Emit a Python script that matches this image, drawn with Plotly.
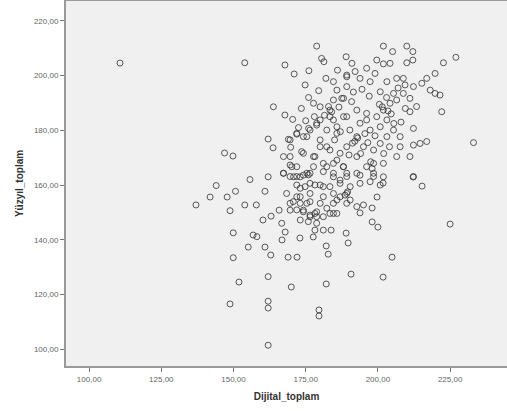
import plotly.graph_objects as go

# Dijital_toplam (x) and Yüzyıl_toplam (y) scores per respondent
dijital = [
    110.7, 153.9, 163.8, 162.0, 163.7, 146.9, 149.8, 155.7, 162.0, 144.0,
    150.7, 160.9, 141.9, 147.8, 137.0, 148.8, 153.9, 157.9, 160.2, 163.0,
    165.8, 149.9, 156.8, 158.1, 155.1, 160.9, 162.9, 149.9, 151.9, 162.0,
    148.8, 162.0, 162.0, 162.0,
    212.2, 215.3, 225.0, 204.9, 201.8, 190.7, 182.1, 170.0, 179.6, 179.6,
    168.9, 172.0, 182.8, 182.1, 189.7, 183.8, 189.0, 177.6, 173.0, 167.9,
    166.8, 198.0, 200.0, 198.0, 193.8, 199.7, 201.8,
    178.2, 175.9, 189.2,
    169.0, 169.8, 184.6, 182.3, 185.8, 180.0, 178.2, 173.6, 170.2, 182.3,
    185.8,
    178.8, 189.0, 180.5, 181.3, 201.9, 205.1, 210.0, 212.1, 212.1, 210.0,
    199.6, 204.2, 201.9, 222.7, 227.0, 167.8, 171.0, 176.1, 174.8, 184.6,
    189.2, 192.1, 196.1, 199.0, 193.8, 197.3, 203.1, 206.5, 208.8, 209.4,
    212.3, 215.2, 216.9, 219.8, 218.1, 219.8, 221.5, 213.4, 222.1, 167.8,
    177.7, 180.0, 183.4, 184.6, 187.5, 185.8, 190.9, 192.7, 196.1, 199.6,
    201.9, 204.2, 206.5, 205.4, 200.8, 208.8, 211.1, 211.1, 212.3, 207.7,
    211.1, 216.9, 214.6, 212.3, 233.1, 169.6, 171.9, 175.4, 176.5, 178.8,
    180.0, 183.4, 185.8, 189.2, 190.3, 192.7, 193.8, 196.1, 197.3, 200.8,
    203.1, 205.4, 203.1, 200.8, 198.5, 195.0, 192.7, 189.2, 186.9, 183.4,
    180.0, 177.7, 174.2, 169.6, 167.3, 171.9, 175.4, 177.7, 181.1, 184.6,
    188.0, 189.2, 192.7, 196.1, 198.5, 201.9, 198.5, 169.6, 171.9, 212.3,
    206.5, 207.7,
    167.3, 170.8, 174.2, 176.5, 181.1, 184.6, 189.2, 193.8, 198.5, 201.9,
    200.8, 197.3, 193.8, 190.4, 186.9, 183.4, 180.0, 176.5, 173.1, 168.4,
    171.9, 176.5, 181.1, 185.8, 189.2, 190.4, 192.7, 195.0, 184.6, 178.8,
    174.2, 169.6, 173.1, 176.5, 178.8, 181.1, 166.7, 169.6,
    182.3, 184.6, 186.9, 188.1, 186.9, 184.6, 189.2,
    167.3, 169.6, 173.1, 175.9, 171.9, 174.8, 173.1, 176.5, 178.2, 181.1,
    180.0, 182.3, 184.6, 185.8, 183.4, 181.1, 178.8, 175.4, 173.1, 170.7,
    171.9, 174.2, 176.5, 178.2,
    182.9, 184.0, 188.1, 188.1, 189.2, 176.0, 178.8, 174.2, 171.9,
    192.0, 193.0, 191.2, 200.5, 201.5, 189.5, 188.6, 204.6, 203.5, 198.0,
    197.5,
    195.5, 187.0, 185.0, 190.0, 194.0, 196.5, 199.0, 202.0, 204.0, 205.5,
    208.0, 209.5, 207.0, 203.0, 197.0, 194.5, 191.5, 186.5, 181.5, 178.0,
    175.0, 172.5, 170.5, 173.5, 176.0, 179.5, 182.0, 186.0, 191.0,
]
yuzyil = [
    204.6, 204.7, 188.6, 176.8, 173.6, 171.7, 170.6, 162.0, 163.0, 159.8,
    157.7, 157.7, 155.6, 155.6, 152.7, 150.6, 152.7, 152.7, 147.2, 148.6,
    150.8, 142.5, 141.7, 141.1, 137.3, 137.3, 134.4, 133.4, 124.5, 126.5,
    116.5, 117.5, 115.0, 101.4,
    162.9, 159.6, 145.7, 133.6, 126.3, 127.4, 123.8, 122.7, 114.3, 112.1,
    133.6, 133.6, 134.7, 137.7, 138.8, 143.5, 142.4, 141.0, 140.6, 142.8,
    139.9, 146.5, 144.6, 151.6, 149.8, 155.6, 160.7,
    143.5, 146.6, 196.0,
    176.7, 173.8, 183.8, 180.1, 178.9, 176.5, 170.4, 172.2, 166.7, 174.0,
    169.1,
    210.8, 206.9, 206.3, 205.1, 210.8, 208.8, 210.8, 208.8, 205.7, 204.7,
    205.7, 204.5, 204.3, 204.7, 206.7, 203.9, 200.6, 201.8, 196.6, 197.8,
    200.2, 201.5, 202.7, 200.8, 199.0, 197.8, 197.8, 199.0, 199.0, 196.6,
    196.0, 197.2, 199.0, 200.8, 194.7, 193.5, 192.9, 188.7, 186.8, 185.6,
    189.9, 188.6, 187.4, 191.1, 191.7, 194.7, 190.5, 187.4, 186.2, 185.0,
    187.4, 189.9, 191.1, 193.5, 194.1, 193.5, 191.7, 186.8, 180.7, 177.7,
    170.4, 175.9, 175.2, 174.6, 175.5, 176.5, 178.9, 177.7, 180.1, 182.6,
    183.8, 185.0, 181.3, 185.0, 180.1, 177.7, 182.6, 183.8, 180.1, 181.3,
    183.8, 180.1, 177.7, 175.2, 172.8, 174.0, 170.4, 174.0, 171.6, 172.8,
    174.0, 170.4, 171.6, 170.4, 170.4, 166.7, 164.3, 166.7, 167.9, 167.9,
    166.7, 163.1, 164.3, 166.7, 167.9, 167.9, 163.1, 163.1, 163.1, 163.1,
    170.4, 174.0,
    164.3, 163.0, 163.6, 164.3, 164.9, 163.0, 164.3, 163.6, 164.3, 163.0,
    160.0, 161.2, 160.6, 159.4, 160.6, 159.4, 160.0, 160.6, 158.8, 156.9,
    155.7, 153.9, 155.7, 154.5, 156.9, 154.5, 152.1, 152.7, 149.6, 150.2,
    150.8, 150.8, 147.2, 148.4, 146.0, 143.5, 146.0, 153.3,
    166.7, 164.3, 161.8, 166.7, 155.7, 156.9, 153.3,
    164.3, 167.3, 163.0, 163.7, 160.0, 159.4, 155.7, 156.9, 160.0, 159.4,
    153.3, 151.5, 153.3, 149.6, 149.6, 148.4, 148.4, 153.3, 153.3, 153.9,
    150.9, 150.2, 149.0, 149.6,
    188.7, 186.8, 191.7, 185.0, 199.6, 180.7, 181.9, 177.7, 178.6,
    176.0, 177.2, 175.3, 189.5, 188.6, 157.5, 156.3, 186.0, 187.1, 166.0,
    168.5,
    178.8, 179.5, 176.5, 171.0, 171.5, 175.5, 178.0, 171.5, 174.0, 182.5,
    183.0, 188.0, 195.5, 192.0, 192.5, 195.0, 194.0, 188.5, 185.5, 185.0,
    183.5, 181.0, 184.0, 188.0, 192.0, 194.5, 199.0, 202.0, 204.5,
]

x_ticks = [100, 125, 150, 175, 200, 225]
x_tick_text = ["100,00", "125,00", "150,00", "175,00", "200,00", "225,00"]
y_ticks = [100, 120, 140, 160, 180, 200, 220]
y_tick_text = ["100,00", "120,00", "140,00", "160,00", "180,00", "200,00", "220,00"]

fig = go.Figure(
    go.Scatter(
        x=dijital,
        y=yuzyil,
        mode="markers",
        marker=dict(
            symbol="circle-open",
            size=6,
            color="rgba(50,50,50,0.8)",
            line=dict(width=1),
        ),
        hoverinfo="x+y",
    )
)

axis_common = dict(
    showgrid=False,
    zeroline=False,
    ticks="outside",
    ticklen=4,
    tickwidth=1,
    tickcolor="#777",
    showline=True,
    linecolor="#9a9a9a",
    linewidth=2,
    tickfont=dict(family="Arial, Liberation Sans, sans-serif", size=8, color="#666"),
)

fig.update_xaxes(
    range=[92.0, 244.7],
    tickvals=x_ticks,
    ticktext=x_tick_text,
    mirror=True,
    title=dict(
        text="<b>Dijital_toplam</b>",
        font=dict(family="Arial, Liberation Sans, sans-serif", size=10, color="#333"),
        standoff=10,
    ),
    **axis_common,
)
fig.update_yaxes(
    range=[93.8, 227.3],
    tickvals=y_ticks,
    ticktext=y_tick_text,
    mirror=False,
    title=dict(
        text="<b>Yüzyıl_toplam</b>",
        font=dict(family="Arial, Liberation Sans, sans-serif", size=10, color="#333"),
        standoff=8,
    ),
    **axis_common,
)

fig.update_layout(
    width=507,
    height=411,
    margin=dict(l=66, r=0, t=1, b=45),
    paper_bgcolor="white",
    plot_bgcolor="#f0f0f0",
    showlegend=False,
)

fig.write_html("out.html")
